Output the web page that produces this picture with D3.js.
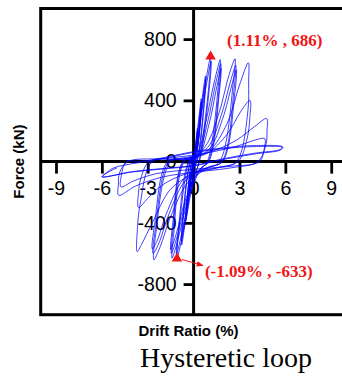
<!DOCTYPE html>
<html>
<head>
<meta charset="utf-8">
<script src="https://cdn.jsdelivr.net/npm/d3@7"></script>
<style>
  html, body { margin: 0; padding: 0; background: #fff; overflow: hidden; }
</style>
</head>
<body>
<svg id="chart" width="342" height="378"></svg>
<script>
// Axis ticks
const xTicks = [-9, -6, -3, 0, 3, 6, 9];
const yTicks = [-800, -400, 0, 400, 800];

// Peak points marked on the curve: [drift %, force kN]
const peakPos = [1.11, 686];
const peakNeg = [-1.09, -633];

// Recorded hysteresis, grouped by target drift level: [drift %, force kN]
const loop025 = [[0,0],[0.08,60],[0.17,150],[0.26,220],[0.22,140],[0.05,0],[-0.08,-60],[-0.17,-140],[-0.26,-205],[-0.22,-130],[-0.05,0],
  [0.08,55],[0.18,140],[0.25,205],[0.21,130],[0.05,0],[-0.08,-55],[-0.18,-130],[-0.25,-195],[-0.21,-120],[-0.06,0]];
const loop050 = [[0.1,70],[0.3,250],[0.5,410],[0.44,290],[0.12,0],[-0.1,-70],[-0.3,-240],[-0.5,-385],[-0.44,-270],[-0.12,0],
  [0.12,60],[0.32,230],[0.5,385],[0.43,270],[0.13,0],[-0.12,-60],[-0.32,-225],[-0.5,-365],[-0.43,-255],[-0.13,0]];
const loop075 = [[0.15,70],[0.45,330],[0.78,560],[0.7,410],[0.2,0],[-0.15,-80],[-0.45,-320],[-0.78,-545],[-0.7,-395],[-0.2,0],
  [0.17,60],[0.47,310],[0.8,540],[0.71,390],[0.22,0],[-0.17,-70],[-0.47,-300],[-0.8,-520],[-0.72,-375],[-0.22,0]];
const loop110 = [[0.2,80],[0.6,400],[1.11,686],[1.02,520],[0.35,0],[0.0,-120],[-0.55,-400],[-1.09,-633],[-0.98,-470],[-0.3,0],
  [0.1,60],[0.62,380],[1.15,655],[1.05,500],[0.38,0],[-0.05,-110],[-0.6,-390],[-1.12,-605],[-1.0,-450],[-0.32,0]];
const loop170 = [[0.2,40],[0.8,260],[1.35,520],[1.74,666],[1.64,520],[0.9,0],[0.4,-60],[-0.4,-260],[-1.0,-500],[-1.41,-631],[-1.3,-470],[-0.6,0],
  [0.2,30],[0.9,250],[1.42,500],[1.78,640],[1.68,490],[0.95,0],[0.4,-50],[-0.45,-250],[-1.05,-480],[-1.45,-600],[-1.34,-440],[-0.65,0],
  [0.25,25],[1.0,240],[1.5,480],[1.8,610],[1.7,470],[1.0,0],[0.45,-45],[-0.5,-240],[-1.1,-460],[-1.5,-575],[-1.38,-420],[-0.7,0]];
const loop270 = [[0.1,30],[0.9,120],[1.7,330],[2.3,560],[2.71,672],[2.6,520],[1.7,0],[0.8,-50],[-0.4,-140],[-1.5,-360],[-2.2,-560],[-2.6,-642],[-2.47,-470],[-1.5,0],
  [-0.4,20],[0.9,90],[1.8,300],[2.4,520],[2.76,630],[2.65,480],[1.85,0],[0.9,-40],[-0.5,-120],[-1.6,-340],[-2.3,-540],[-2.65,-600],[-2.5,-440],[-1.6,0],
  [-0.5,15],[1.0,80],[1.9,280],[2.5,500],[2.8,600],[2.7,450],[1.9,0],[1.0,-35],[-0.6,-110],[-1.7,-320],[-2.4,-520],[-2.7,-570],[-2.55,-410],[-1.7,0]];
const loop360 = [[-0.5,20],[1.0,70],[2.2,250],[3.0,500],[3.58,646],[3.6,520],[3.55,330],[2.8,0],[1.6,-40],[0.0,-80],[-1.5,-180],[-2.7,-400],[-3.4,-540],[-3.69,-588],[-3.66,-420],[-3.5,-280],[-2.7,0],
  [-1.0,15],[0.8,50],[2.2,180],[3.1,330],[3.69,400],[3.68,290],[3.5,150],[2.9,0],[1.5,-40],[-0.5,-80],[-2.0,-150],[-3.0,-240],[-3.6,-300],[-3.6,-200],[-3.45,-110],[-2.9,0]];
const loop480 = [[-1.0,20],[1.0,60],[2.8,140],[4.0,230],[4.78,281],[4.8,200],[4.75,120],[4.2,0],[2.5,-40],[0.0,-70],[-2.0,-100],[-3.8,-160],[-4.9,-220],[-4.92,-150],[-4.85,-75],[-4.3,0],
  [-2.0,20],[0.5,50],[2.8,100],[4.0,140],[4.65,150],[4.63,90],[4.3,0],[2.5,-30],[0.0,-50],[-2.5,-80],[-4.0,-130],[-4.75,-165],[-4.72,-90],[-4.4,0]];
const loop600 = [[-3.5,0],[-2,25],[0,65],[2,90],[4,105],[5.84,96],[5.7,80],[4,55],[2,20],[0,-25],[-2,-45],[-4,-65],[-6,-100],[-5.6,-65],[-5.2,-40],
  [-3.5,-5],[-2,20],[0,60],[2,85],[4,98],[5.8,92],[5.65,75],[4,50],[2,15],[0,-28],[-2,-48],[-4,-68],[-5.95,-98],[-5.6,-70],[-5,-40]];

const history = [].concat(loop025, loop050, loop075, loop110, loop170, loop270, loop360, loop480, loop600);

const svg = d3.select("#chart");
const sansFont = "'Liberation Sans', Arial, sans-serif";
const serifFont = "'Liberation Serif', 'Times New Roman', serif";

const x = d3.scaleLinear().domain([-10, 10]).range([40.7, 346.5]);
const y = d3.scaleLinear().domain([-1000, 1000]).range([314.7, 8.5]);

// Plot frame
svg.append("rect")
  .attr("x", x(-10)).attr("y", y(1000))
  .attr("width", x(10) - x(-10)).attr("height", y(-1000) - y(1000))
  .attr("fill", "none").attr("stroke", "#000").attr("stroke-width", 3);

// Axes through the origin
const xAxis = svg.append("g")
  .attr("transform", `translate(0,${y(0)})`)
  .call(d3.axisBottom(x).tickValues(xTicks).tickSize(12).tickPadding(8).tickFormat(d => String(d)));
const yAxis = svg.append("g")
  .attr("transform", `translate(${x(0)},0)`)
  .call(d3.axisLeft(y).tickValues(yTicks).tickSize(10).tickPadding(7).tickFormat(d => String(d)));

[xAxis, yAxis].forEach(g => {
  g.select(".domain").remove();
  g.attr("font-family", sansFont).attr("font-size", 19.5);
  g.selectAll(".tick line").attr("stroke", "#000").attr("stroke-width", 2.8);
  g.selectAll(".tick text").attr("fill", "#000");
});

svg.append("line")
  .attr("x1", x(-10)).attr("x2", x(10)).attr("y1", y(0)).attr("y2", y(0))
  .attr("stroke", "#000").attr("stroke-width", 3);
svg.append("line")
  .attr("x1", x(0)).attr("x2", x(0)).attr("y1", y(1000)).attr("y2", y(-1000))
  .attr("stroke", "#000").attr("stroke-width", 3);

// Axis titles
svg.append("text")
  .attr("transform", `translate(24,${y(0)}) rotate(-90)`)
  .attr("text-anchor", "middle")
  .attr("font-family", sansFont).attr("font-weight", "bold").attr("font-size", 15)
  .text("Force (kN)");
svg.append("text")
  .attr("x", 188.5).attr("y", 336)
  .attr("text-anchor", "middle")
  .attr("font-family", sansFont).attr("font-weight", "bold").attr("font-size", 15)
  .text("Drift Ratio (%)");

// Hysteresis curve
const line = d3.line()
  .x(d => x(d[0]))
  .y(d => y(d[1]))
  .curve(d3.curveCatmullRom.alpha(0.5));

svg.append("path")
  .datum(history)
  .attr("d", line)
  .attr("fill", "none")
  .attr("stroke", "#0000ff")
  .attr("stroke-width", 0.75)
  .attr("stroke-linejoin", "round");

// Peak markers and labels
const red = "#f01616";
const tri = d3.symbol().type(d3.symbolTriangle).size(48);
[peakPos, peakNeg].forEach(p => {
  svg.append("path")
    .attr("d", tri)
    .attr("transform", `translate(${x(p[0])},${y(p[1])})`)
    .attr("fill", red);
});

const fmt = p => `(${p[0].toFixed(2)}% , ${p[1]})`;
svg.append("text")
  .attr("x", x(peakPos[0]) + 16.5).attr("y", y(peakPos[1]) - 10.5)
  .attr("font-family", serifFont).attr("font-weight", "bold").attr("font-size", 17)
  .attr("fill", red)
  .text(fmt(peakPos));

svg.append("defs").append("marker")
  .attr("id", "arrowHead")
  .attr("viewBox", "0 0 10 10").attr("refX", 9).attr("refY", 5)
  .attr("markerWidth", 7).attr("markerHeight", 7)
  .attr("markerUnits", "userSpaceOnUse")
  .attr("orient", "auto")
  .append("path").attr("d", "M0,1L10,5L0,9Z").attr("fill", red);

svg.append("line")
  .attr("x1", x(peakNeg[0]) + 5).attr("y1", y(peakNeg[1]) + 1)
  .attr("x2", x(peakNeg[0]) + 26).attr("y2", y(peakNeg[1]) + 7)
  .attr("stroke", red).attr("stroke-width", 1)
  .attr("marker-end", "url(#arrowHead)");

svg.append("text")
  .attr("x", x(peakNeg[0]) + 28).attr("y", y(peakNeg[1]) + 18)
  .attr("font-family", serifFont).attr("font-weight", "bold").attr("font-size", 17)
  .attr("fill", red)
  .text(fmt(peakNeg));

// Caption
svg.append("text")
  .attr("x", 226).attr("y", 366.7)
  .attr("text-anchor", "middle")
  .attr("font-family", serifFont).attr("font-size", 28)
  .attr("fill", "#000")
  .text("Hysteretic loop");
</script>
</body>
</html>
